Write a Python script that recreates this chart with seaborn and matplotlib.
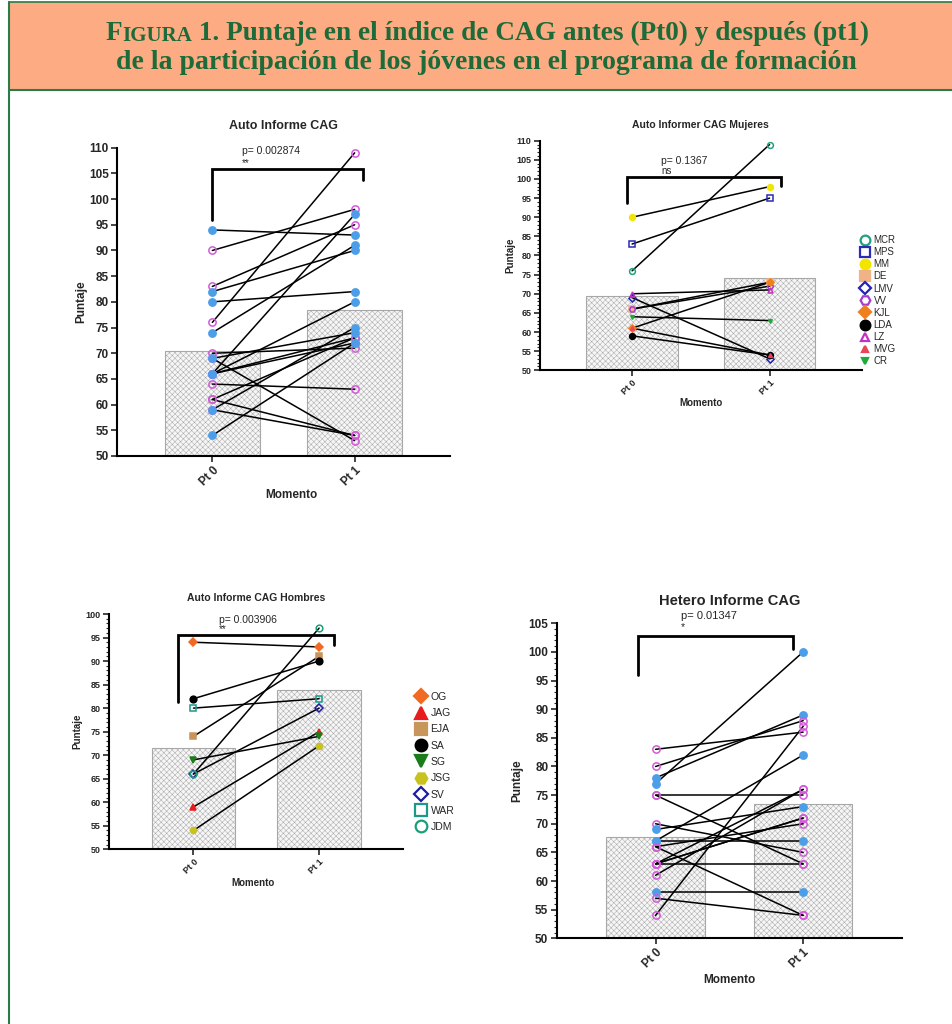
import numpy as np
import pandas as pd
import seaborn as sns
import matplotlib.pyplot as plt
from matplotlib.lines import Line2D
from matplotlib.patches import Rectangle

sns.set_theme(style="ticks")
plt.rcParams['font.family'] = ['Liberation Sans', 'DejaVu Sans']
plt.rcParams['hatch.linewidth'] = 0.35

# ---- datos ----
momentos = ["Pt 0", "Pt 1"]

mujeres = ["MCR", "MPS", "MM", "DE", "LMV", "VV", "KJL", "LDA", "LZ", "MVG", "CR"]
mujeres_pt0 = [76, 83, 90, 66, 69, 66, 61, 59, 70, 61, 64]
mujeres_pt1 = [109, 95, 98, 73, 53, 72, 73, 54, 71, 54, 63]

hombres = ["OG", "JAG", "EJA", "SA", "SG", "JSG", "SV", "WAR", "JDM"]
hombres_pt0 = [94, 59, 74, 82, 69, 54, 66, 80, 66]
hombres_pt1 = [93, 75, 91, 90, 74, 72, 80, 82, 97]

hetero_sexo = ["H", "H", "M", "M", "M", "H", "M", "M", "M", "H",
               "H", "M", "M", "M", "M", "M", "H", "M", "M", "M"]
hetero_pt0 = [77, 78, 83, 80, 54, 67, 75, 75, 70, 69, 67, 66, 63, 63, 63, 61, 58, 57, 66, 63]
hetero_pt1 = [100, 89, 86, 88, 87, 82, 75, 63, 65, 73, 67, 54, 63, 76, 71, 76, 58, 54, 70, 71]

p_valores = ["p= 0.002874", "p= 0.1367", "p= 0.003906", "p= 0.01347"]
signif = ["**", "ns", "**", "*"]

# ---- estilos ----
estilo_mujeres = {
    "MCR": ("o", "#1fa37f", False, 7),
    "MPS": ("s", "#2b2bb8", False, 7),
    "MM": ("o", "#f2e600", True, 7),
    "DE": ("s", "#efb387", True, 7),
    "LMV": ("D", "#2424b0", False, 6),
    "VV": ("H", "#a63dcf", False, 7),
    "KJL": ("D", "#f07f1e", True, 6),
    "LDA": ("o", "#000000", True, 7),
    "LZ": ("^", "#c42fc4", False, 6),
    "MVG": ("^", "#e8465a", True, 4.5),
    "CR": ("v", "#1faa3a", True, 4.5),
}
estilo_hombres = {
    "OG": ("D", "#f26a21", True, 7),
    "JAG": ("^", "#e81c1c", True, 8),
    "EJA": ("s", "#c8955a", True, 8),
    "SA": ("o", "#000000", True, 8),
    "SG": ("v", "#1a7d1a", True, 8),
    "JSG": ("H", "#c9c21e", True, 8),
    "SV": ("D", "#1c1ca6", False, 7),
    "WAR": ("s", "#1a9a88", False, 8),
    "JDM": ("o", "#1a9e7a", False, 8),
}
rosa = "#d45ad8"
azul = "#4c9ee8"


def tabla(sujetos, pt0, pt1):
    n = len(sujetos)
    return pd.DataFrame({
        "sujeto": list(sujetos) * 2,
        "momento": [momentos[0]] * n + [momentos[1]] * n,
        "puntaje": list(pt0) + list(pt1),
    })


def panel(ax, df, estilos, ylim, titulo, tsize, ticksize, labsize, msf=0.6, minor=True):
    sns.barplot(data=df, x="momento", y="puntaje", order=momentos, errorbar=None,
                width=0.667, color="#f6f6f6", saturation=1, edgecolor="#a8a8a8",
                linewidth=0.8, hatch="xxxxxx", ax=ax)
    for suj, g in df.groupby("sujeto", sort=False):
        xs = [momentos.index(m) for m in g["momento"]]
        ax.plot(xs, g["puntaje"], color="black", lw=1.1, zorder=3)
        mk, col, filled, ms = estilos[suj]
        ax.plot(xs, g["puntaje"], ls="none", marker=mk, ms=ms * msf,
                mfc=col if filled else "none", mec=col, mew=1.1, zorder=4)
    ax.set_ylim(*ylim)
    ax.set_xlim(-0.67, 1.67)
    ax.set_yticks(np.arange(ylim[0], ylim[1] + 1, 5))
    if minor:
        ax.set_yticks(np.arange(ylim[0], ylim[1] + 1, 1), minor=True)
        ax.tick_params(axis="y", which="minor", length=2, width=0.8, left=True)
    ax.tick_params(axis="both", which="major", length=4, width=1.2, labelsize=ticksize, pad=2)
    for lab in ax.get_yticklabels():
        lab.set_fontweight("bold")
    ax.set_xticks(range(len(momentos)))
    ax.set_xticklabels(momentos, rotation=45, ha="right", rotation_mode="anchor",
                       fontweight="bold", fontsize=ticksize)
    sns.despine(ax=ax)
    for s in ["left", "bottom"]:
        ax.spines[s].set_linewidth(1.5)
        ax.spines[s].set_color("black")
    ax.set_ylabel("Puntaje", fontsize=labsize, fontweight="bold")
    ax.set_xlabel("Momento", fontsize=labsize, fontweight="bold")
    ax.set_title(titulo, fontsize=tsize, fontweight="bold", pad=0, y=1.07, va="center")


def corchete(ax, x0, x1, yb0, yt, yb1, ptxt, stxt, tx, ty, sy, fs=7.5):
    ax.plot([x0, x0, x1, x1], [yb0, yt, yt, yb1], color="black", lw=2,
            clip_on=False, solid_joinstyle="miter", zorder=5)
    ax.text(tx, ty, ptxt, fontsize=fs, va="center", ha="left", clip_on=False)
    ax.text(tx, sy, stxt, fontsize=fs - 0.5, va="center", ha="left", clip_on=False)


fig = plt.figure(figsize=(9.53, 10.24), dpi=100)

# cabecera (ejes de fondo en coordenadas de figura)
hax = fig.add_axes([0, 0, 1, 1])
hax.set_axis_off()
hax.set_xlim(0, 1)
hax.set_ylim(0, 1)
verde = "#2a7a4a"
hax.add_patch(Rectangle((9 / 953, 1 - 90 / 1024), 1, 88 / 1024,
                        facecolor="#fdab82", edgecolor="none"))
hax.plot([9 / 953, 9 / 953], [0, 1 - 2 / 1024], color=verde, lw=1.5)
hax.plot([9 / 953, 1], [1 - 2 / 1024, 1 - 2 / 1024], color=verde, lw=1.2)
hax.plot([9 / 953, 1], [1 - 90 / 1024, 1 - 90 / 1024], color=verde, lw=1.5)
tfont = dict(family="Liberation Serif", fontweight="bold", color="#1d6b39")
t1 = hax.text(106 / 953, 1 - 40 / 1024, "F", fontsize=19.6, va="baseline", **tfont)
t2 = hax.annotate("IGURA", xy=(1, 0), xycoords=t1, fontsize=15, va="bottom",
                  annotation_clip=False, **tfont)
hax.annotate(" 1. Puntaje en el índice de CAG antes (Pt0) y después (pt1)", xy=(1, 0),
             xycoords=t2, fontsize=19.6, va="bottom", annotation_clip=False, **tfont)
hax.text(486 / 953, 1 - 69 / 1024,
         "de la participación de los jóvenes en el programa de formación",
         fontsize=20, ha="center", va="baseline", **tfont)

# panel 1: auto informe total
ax1 = fig.add_axes([117 / 953, 1 - 456 / 1024, 333 / 953, 308.3 / 1024])
df_m = tabla(mujeres, mujeres_pt0, mujeres_pt1)
df_h = tabla(hombres, hombres_pt0, hombres_pt1)
df_t = pd.concat([df_m, df_h], ignore_index=True)
est_t = {s: ("o", rosa, False, 7) for s in mujeres}
est_t.update({s: ("o", azul, True, 7) for s in hombres})
panel(ax1, df_t, est_t, (50, 110), "Auto Informe CAG", 9, 8.5, 8.5, msf=0.75, minor=False)
ax1.yaxis.set_label_coords(-0.09, 0.5)
ax1.xaxis.set_label_coords(0.525, -0.107)
corchete(ax1, 0, 1.062, 95.9, 105.9, 103.7, p_valores[0], signif[0], 0.21, 109.3, 107.0)

# panel 2: mujeres
ax2 = fig.add_axes([540 / 953, 1 - 370.3 / 1024, 321.7 / 953, 229.6 / 1024])
panel(ax2, df_m, estilo_mujeres, (50, 110), "Auto Informer CAG Mujeres", 7.5, 6.5, 7)
ax2.yaxis.set_label_coords(-0.076, 0.5)
ax2.xaxis.set_label_coords(0.5, -0.121)
corchete(ax2, -0.036, 1.08, 93.6, 100.6, 98.2, p_valores[1], signif[1], 0.21, 104.8, 102.1)

# panel 3: hombres
ax3 = fig.add_axes([109.3 / 953, 1 - 849.3 / 1024, 294 / 953, 235.3 / 1024])
panel(ax3, df_h, estilo_hombres, (50, 100), "Auto Informe CAG Hombres", 7.5, 6.5, 7)
ax3.yaxis.set_label_coords(-0.092, 0.5)
ax3.xaxis.set_label_coords(0.49, -0.121)
corchete(ax3, -0.127, 1.12, 81.2, 95.5, 93.4, p_valores[2], signif[2], 0.2, 98.8, 96.9)

# panel 4: hetero informe
ax4 = fig.add_axes([556.7 / 953, 1 - 938.3 / 1024, 345.3 / 953, 315 / 1024])
df_x = pd.DataFrame({
    "sujeto": [f"s{i}" for i in range(len(hetero_pt0))] * 2,
    "momento": [momentos[0]] * len(hetero_pt0) + [momentos[1]] * len(hetero_pt1),
    "puntaje": hetero_pt0 + hetero_pt1,
})
est_x = {f"s{i}": ("o", azul, True, 7) if s == "H" else ("o", rosa, False, 7)
         for i, s in enumerate(hetero_sexo)}
panel(ax4, df_x, est_x, (50, 105), "Hetero Informe CAG", 10.5, 8.5, 8.5, msf=0.75)
ax4.yaxis.set_label_coords(-0.096, 0.5)
ax4.xaxis.set_label_coords(0.5, -0.113)
ax4.title.set_y(1.072)
corchete(ax4, -0.118, 0.93, 96, 102.8, 100.6, p_valores[3], signif[3], 0.17, 106.3, 104.3, fs=8)


# leyendas
def leyenda(estilos, x, y, fsize, spacing, escala):
    hs = []
    for suj, (mk, col, filled, ms) in estilos.items():
        hs.append(Line2D([], [], ls="none", marker=mk, ms=ms * escala,
                         mfc=col if filled else "none", mec=col, mew=1.6))
    fig.legend(hs, list(estilos), loc="upper left", bbox_to_anchor=(x, y), frameon=False,
               fontsize=fsize, labelspacing=spacing, handletextpad=0.4, handlelength=1.0,
               borderpad=0, borderaxespad=0)


leyenda(estilo_mujeres, 860 / 953, 1 - 235 / 1024, 7, 0.22, 1.0)
leyenda(estilo_hombres, 416 / 953, 1 - 692 / 1024, 7.5, 0.6, 1.05)

fig.savefig("out.png", dpi=100)
